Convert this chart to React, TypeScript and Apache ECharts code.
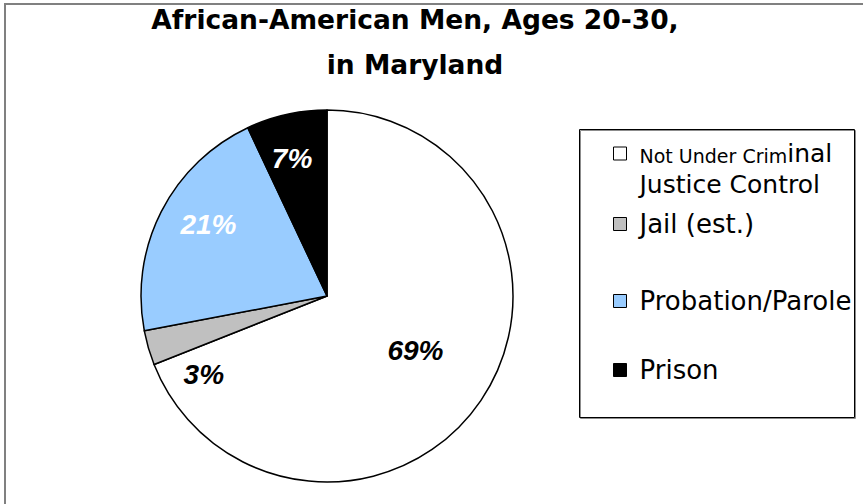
import React, { useEffect, useRef } from "react";
import * as echarts from "echarts";

const titleLines = ["African-American Men, Ages 20-30,", "in Maryland"];
const categories = ["Not Under Criminal Justice Control", "Jail (est.)", "Probation/Parole", "Prison"];
const values = [69, 3, 21, 7];
const colors = ["#FFFFFF", "#C0C0C0", "#99CCFF", "#000000"];
const labelColors = ["#000000", "#000000", "#FFFFFF", "#FFFFFF"];
const labelOffsets: [number, number][] = [[9, 1], [-31, 52], [-33, -28], [-14, -44]];
const legendTops = [141, 210, 287, 356];

export default function App() {
  const ref = useRef<HTMLDivElement>(null);
  useEffect(() => {
    if (!ref.current) return;
    const chart = echarts.init(ref.current, undefined, { renderer: "svg" });
    const legends = categories.map((name, i) => {
      const first = i === 0;
      return {
        show: true,
        orient: "vertical",
        left: 613,
        top: legendTops[i],
        padding: 0,
        itemWidth: 13,
        itemHeight: 13,
        icon: "rect",
        selectedMode: false,
        data: [name],
        itemStyle: { borderColor: "#000", borderWidth: 1 },
        formatter: first ? () => "{s|Not Under Crim}{b|inal}\n{c|Justice Control}" : undefined,
        textStyle: first
          ? {
              fontFamily: "DejaVu Sans",
              color: "#000",
              padding: [36, 0, 0, 8],
              rich: {
                s: { fontFamily: "DejaVu Sans", fontSize: 19, color: "#000", padding: [4, 0, 0, 0] },
                b: { fontFamily: "DejaVu Sans", fontSize: 25, color: "#000" },
                c: { fontFamily: "DejaVu Sans", fontSize: 25, color: "#000", lineHeight: 36 },
              },
            }
          : {
              fontFamily: "DejaVu Sans",
              fontSize: 26,
              lineHeight: 28,
              color: "#000",
              padding: [0, 0, 0, 8],
            },
      };
    });
    chart.setOption({
      animation: false,
      backgroundColor: "#FFFFFF",
      title: {
        text: titleLines.join("\n"),
        left: 415,
        textAlign: "center",
        top: -3.5,
        padding: 0,
        textStyle: {
          fontFamily: "DejaVu Sans",
          fontWeight: "bold",
          fontSize: 26.5,
          lineHeight: 45,
          color: "#000",
        },
      },
      legend: legends,
      graphic: [
        {
          type: "rect",
          shape: { x: 5, y: 4, width: 900, height: 600 },
          style: { fill: "none", stroke: "#808080", lineWidth: 2 },
          silent: true,
        },
        {
          type: "rect",
          shape: { x: 579.5, y: 129.5, width: 275, height: 288 },
          style: {
            fill: "none",
            stroke: "#000",
            lineWidth: 1,
            shadowColor: "rgba(0,0,0,0.45)",
            shadowOffsetX: 1,
            shadowOffsetY: 1,
            shadowBlur: 1,
          },
          silent: true,
          z: -1,
        },
      ],
      series: [
        {
          type: "pie",
          center: [327, 296],
          radius: [0, 186],
          startAngle: 90,
          clockwise: true,
          avoidLabelOverlap: false,
          emphasis: { disabled: true },
          itemStyle: { borderColor: "#000", borderWidth: 1.5 },
          label: {
            show: true,
            position: "inside",
            formatter: "{c}%",
            fontFamily: "Liberation Sans",
            fontStyle: "italic",
            fontWeight: "bold",
            fontSize: 28,
          },
          labelLine: { show: false },
          data: categories.map((name, i) => ({
            name,
            value: values[i],
            itemStyle: { color: colors[i] },
            label: { color: labelColors[i], offset: labelOffsets[i] },
          })),
        },
      ],
    });
    return () => chart.dispose();
  }, []);
  return (
    <div
      ref={ref}
      style={{ position: "absolute", left: 0, top: 0, width: 863, height: 504, background: "#fff" }}
    />
  );
}
